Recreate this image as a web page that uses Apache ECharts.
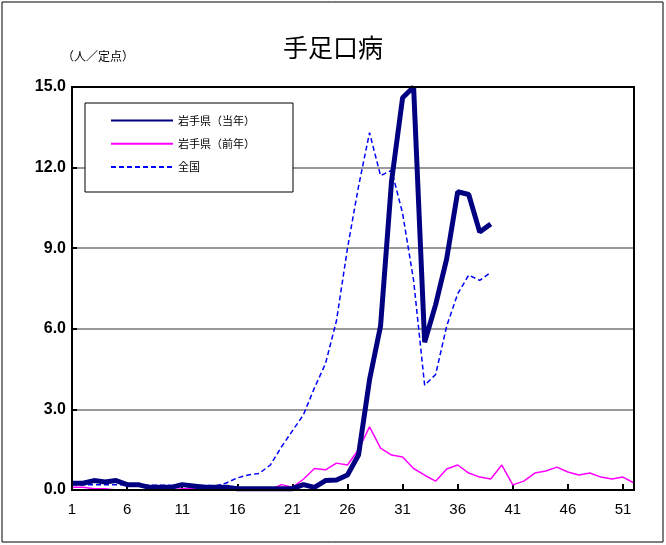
<!DOCTYPE html>
<html><head><meta charset="utf-8">
<script src="https://cdn.jsdelivr.net/npm/echarts@6/dist/echarts.min.js"></script>
<style>body{margin:0}#c{width:666px;height:545px}</style></head>
<body><div id="c"></div>
<script>
var weeks = [];
for (var i = 1; i <= 52; i++) weeks.push(String(i));
var current = [0.25,0.25,0.35,0.3,0.35,0.2,0.2,0.1,0.1,0.1,0.2,0.15,0.1,0.1,0.1,0.05,0.05,0.05,0.05,0.05,0.05,0.2,0.1,0.35,0.37,0.56,1.3,4.1,6.1,11.5,14.6,15.0,5.5,6.9,8.6,11.1,11.0,9.6,9.9];
var previous = [0.1,0.1,0.05,0.05,0.0,0.0,0.0,0.0,0.0,0.0,0.05,0.05,0.05,0.1,0.05,0.0,0.0,0.0,0.0,0.2,0.1,0.4,0.8,0.75,1.0,0.93,1.5,2.35,1.56,1.3,1.23,0.8,0.55,0.33,0.78,0.93,0.63,0.48,0.41,0.93,0.19,0.33,0.63,0.71,0.85,0.67,0.56,0.63,0.48,0.41,0.48,0.26];
var national = [0.2,0.2,0.2,0.2,0.2,0.2,0.2,0.18,0.18,0.17,0.17,0.17,0.17,0.15,0.26,0.45,0.56,0.62,0.93,1.6,2.2,2.8,3.8,4.7,6.3,9.0,11.3,13.3,11.7,11.9,10.3,7.8,3.9,4.3,6.1,7.3,8.0,7.8,8.1];
var chart = echarts.init(document.getElementById('c'));
chart.setOption({
  animation: false,
  textStyle: {fontFamily: 'Noto Sans CJK JP'},
  title: {text: '手足口病', left: 'center', top: 30, textStyle: {fontSize: 25, fontWeight: 'normal', color: '#000', fontFamily: 'Noto Sans CJK JP'}},
  graphic: [
    {type: 'rect', shape: {x: 2, y: 2, width: 661, height: 540}, style: {fill: null, stroke: '#000', lineWidth: 1}},
    {type: 'rect', shape: {x: 72, y: 87, width: 562, height: 403}, style: {fill: null, stroke: '#000', lineWidth: 2}, z: 5},
    {type: 'text', left: 62, top: 50, style: {text: '（人／定点）', fontSize: 12, fill: '#000', fontFamily: 'Noto Sans CJK JP'}},
    {type: 'rect', shape: {x: 85, y: 103, width: 208, height: 89}, style: {fill: '#fff', stroke: '#000', lineWidth: 1}, z: 10}
  ],
  legend: {left: 105, top: 110, orient: 'vertical', itemGap: 12, itemWidth: 62, itemHeight: 14, z: 11,
    itemStyle: {opacity: 0},
    textStyle: {fontSize: 11, color: '#000'},
    data: ['岩手県（当年）', '岩手県（前年）', '全国']},
  grid: {left: 72, right: 32, top: 87, bottom: 55},
  xAxis: {type: 'category', data: weeks, boundaryGap: false,
    axisLine: {lineStyle: {color: '#000', width: 2}},
    axisTick: {interval: 4, inside: true, length: 6, lineStyle: {color: '#000', width: 2}},
    axisLabel: {interval: 4, color: '#000', fontSize: 15, margin: 12, fontFamily: 'Liberation Sans'}},
  yAxis: {type: 'value', min: 0, max: 15, interval: 3,
    axisLine: {show: true, lineStyle: {color: '#000', width: 2}},
    axisTick: {show: true, inside: true, lineStyle: {color: '#000', width: 2}},
    axisLabel: {color: '#000', fontSize: 16, fontWeight: 'bold', margin: 6, fontFamily: 'Liberation Sans', formatter: function (v) { return v.toFixed(1); }},
    splitLine: {lineStyle: {color: '#999', width: 2}}},
  series: [
    {name: '岩手県（当年）', type: 'line', data: current, symbol: 'none', z: 3, lineStyle: {color: '#000080', width: 5}, itemStyle: {color: '#000080'}},
    {name: '岩手県（前年）', type: 'line', data: previous, symbol: 'none', z: 2, lineStyle: {color: '#ff00ff', width: 1.5}, itemStyle: {color: '#ff00ff'}},
    {name: '全国', type: 'line', data: national, symbol: 'none', z: 1, lineStyle: {color: '#0000ff', width: 1.5, type: [5, 3]}, itemStyle: {color: '#0000ff'}}
  ]
});
</script></body></html>
